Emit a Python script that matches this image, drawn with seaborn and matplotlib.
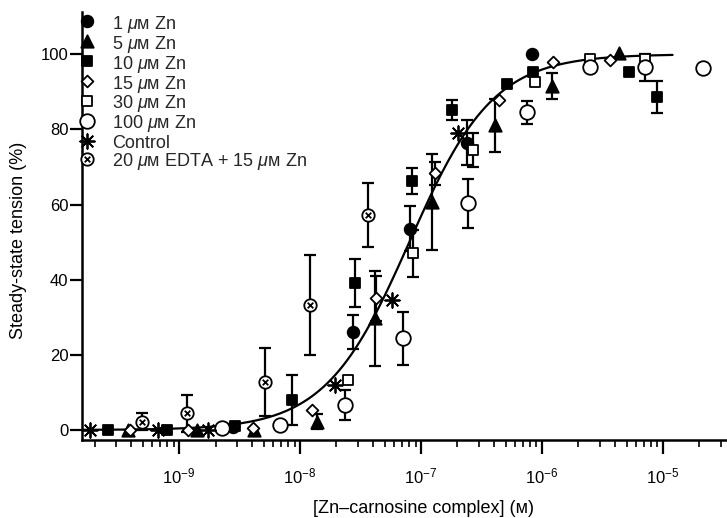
import numpy as np
import seaborn as sns
import matplotlib
matplotlib.use("Agg")
import matplotlib.pyplot as plt
from matplotlib.path import Path
from matplotlib.ticker import FixedLocator, FixedFormatter, LogLocator, NullFormatter

# values: concentration (M), tension (%), +/- error (0 = no bar)
zn1_x = [2.8e-9, 2.75e-8, 8.1e-8, 2.4e-7, 8.2e-7]
zn1_y = [0.8, 26.1, 53.6, 76.5, 100.0]
zn1_err = [0, 4.5, 6.0, 6.0, 0]

zn5_x = [3.8e-10, 1.4e-9, 4.2e-9, 1.37e-8, 4.2e-8, 1.24e-7, 4.1e-7, 1.2e-6, 4.3e-6]
zn5_y = [0.0, 0.0, 0.0, 2.2, 29.7, 60.7, 81.1, 91.6, 100.4]
zn5_err = [0, 0, 0, 2.0, 12.6, 12.8, 7.0, 3.5, 0]

zn10_x = [2.6e-10, 7.9e-10, 2.9e-9, 8.5e-9, 2.85e-8, 8.4e-8, 1.8e-7, 5.1e-7, 8.5e-7, 5.2e-6, 8.9e-6]
zn10_y = [0.0, 0.0, 1.0, 8.0, 39.0, 66.3, 85.1, 92.2, 95.3, 95.3, 88.6]
zn10_err = [0, 0, 0, 6.6, 6.4, 3.5, 2.7, 0, 0, 0, 4.3]

zn15_x = [3.9e-10, 1.19e-9, 4.1e-9, 1.25e-8, 4.25e-8, 1.3e-7, 4.4e-7, 1.24e-6, 3.65e-6]
zn15_y = [0.0, 0.0, 0.5, 5.3, 35.0, 68.3, 87.8, 98.0, 98.4]
zn15_err = [0, 0, 0, 0, 6.0, 3.0, 0, 0, 0]

zn30_x = [2.5e-8, 8.6e-8, 2.7e-7, 8.75e-7, 2.5e-6, 7.1e-6]
zn30_y = [13.3, 47.0, 74.5, 92.6, 98.8, 98.8]
zn30_err = [0, 6.2, 4.5, 0, 0, 0]

zn100_x = [2.25e-9, 6.8e-9, 2.35e-8, 7.1e-8, 2.46e-7, 7.5e-7, 2.5e-6, 7.1e-6, 2.14e-5]
zn100_y = [0.4, 1.3, 6.6, 24.4, 60.3, 84.5, 96.6, 96.5, 96.3]
zn100_err = [0, 0, 4.0, 7.0, 6.5, 3.0, 0, 3.5, 0]

ctrl_x = [1.84e-10, 6.7e-10, 1.74e-9, 1.95e-8, 5.7e-8, 2.03e-7]
ctrl_y = [0.0, 0.0, 0.0, 12.0, 34.6, 79.0]
ctrl_err = [0, 0, 0, 0, 0, 0]

edta_x = [4.9e-10, 1.16e-9, 5.1e-9, 1.21e-8, 3.65e-8]
edta_y = [2.2, 4.4, 12.8, 33.2, 57.2]
edta_err = [2.3, 4.9, 9.0, 13.3, 8.6]

# fitted Hill curve parameters
ec50 = 8.0e-8
hill_n = 1.25
curve_range = (1.6e-10, 1.2e-5)

x_major = [1e-9, 1e-8, 1e-7, 1e-6, 1e-5]
x_major_labels = [r"$10^{-9}$", r"$10^{-8}$", r"$10^{-7}$", r"$10^{-6}$", r"$10^{-5}$"]
y_ticks = [0, 20, 40, 60, 80, 100]

sns.set_theme(style="ticks")
plt.rcParams["font.family"] = ["Liberation Sans", "DejaVu Sans"]
plt.rcParams["mathtext.fontset"] = "custom"
plt.rcParams["mathtext.rm"] = "Liberation Sans"
plt.rcParams["mathtext.it"] = "Liberation Sans:italic"

# circle with a cross inside
otimes = Path.make_compound_path(
    Path.unit_circle(),
    Path([(-0.45, -0.45), (0.45, 0.45)]),
    Path([(-0.45, 0.45), (0.45, -0.45)]),
)

mu = r"$\mu$" + "\u1d0d"
series = [
    (f"1 {mu} Zn", zn1_x, zn1_y, zn1_err, "o", "black", 70),
    (f"5 {mu} Zn", zn5_x, zn5_y, zn5_err, "^", "black", 80),
    (f"10 {mu} Zn", zn10_x, zn10_y, zn10_err, "s", "black", 60),
    (f"15 {mu} Zn", zn15_x, zn15_y, zn15_err, "D", "white", 36),
    (f"30 {mu} Zn", zn30_x, zn30_y, zn30_err, "s", "white", 60),
    (f"100 {mu} Zn", zn100_x, zn100_y, zn100_err, "o", "white", 110),
    ("Control", ctrl_x, ctrl_y, ctrl_err, (8, 2, 0), "black", 110),
    (f"20 {mu} EDTA + 15 {mu} Zn", edta_x, edta_y, edta_err, otimes, "white", 80),
]

fig = plt.figure(figsize=(7.27, 5.18), dpi=100)
ax = fig.add_axes([0.113, 0.1506, 0.887, 0.826])

# fitted curve
cx = np.logspace(np.log10(curve_range[0]), np.log10(curve_range[1]), 300)
cy = 100 * cx**hill_n / (cx**hill_n + ec50**hill_n)
sns.lineplot(x=cx, y=cy, color="black", lw=1.6, ax=ax, zorder=2)

for label, xs, ys, errs, mk, fc, size in series:
    xs, ys, errs = np.array(xs), np.array(ys), np.array(errs)
    has = errs > 0
    if has.any():
        ax.errorbar(xs[has], ys[has], yerr=errs[has], fmt="none", ecolor="black",
                    elinewidth=1.6, capsize=4.5, capthick=1.6, zorder=3)
    sns.scatterplot(x=xs, y=ys, marker=mk, s=size, color=fc, edgecolor="black",
                    linewidth=1.3, label=label, ax=ax, zorder=4)

ax.set_xscale("log")
ax.set_xlim(1.58e-10, 3.38e-5)
ax.set_ylim(-2.66, 111.2)
ax.xaxis.set_major_locator(FixedLocator(x_major))
ax.xaxis.set_major_formatter(FixedFormatter(x_major_labels))
ax.xaxis.set_minor_locator(LogLocator(base=10, subs=np.arange(2, 10)))
ax.xaxis.set_minor_formatter(NullFormatter())
ax.set_yticks(y_ticks)

for s in ("top", "right"):
    ax.spines[s].set_visible(False)
for s in ("left", "bottom"):
    ax.spines[s].set_linewidth(1.8)
    ax.spines[s].set_color("black")

ax.tick_params(axis="x", which="major", direction="out", length=10, width=1.6,
               pad=9, labelsize=12, colors="black")
ax.tick_params(axis="x", which="minor", direction="out", length=5, width=1.4)
ax.tick_params(axis="y", direction="out", length=9, width=1.6, pad=1,
               labelsize=12, colors="black")

ax.set_xlabel("[Zn\u2013carnosine complex] (\u1d0d)", fontsize=13, color="black")
ax.xaxis.set_label_coords(0.53, -0.14)
ax.set_ylabel("Steady-state tension (%)", fontsize=13, color="black")
ax.yaxis.set_label_coords(-0.086, 0.467)

# tall handle boxes keep every legend row the same height
leg = ax.legend(loc="upper left", bbox_to_anchor=(-0.018, 1.015), frameon=False,
                fontsize=13, handletextpad=0.9, labelspacing=-0.11, borderaxespad=0,
                handlelength=1.0, handleheight=1.3)

fig.savefig("out.png", dpi=100)
